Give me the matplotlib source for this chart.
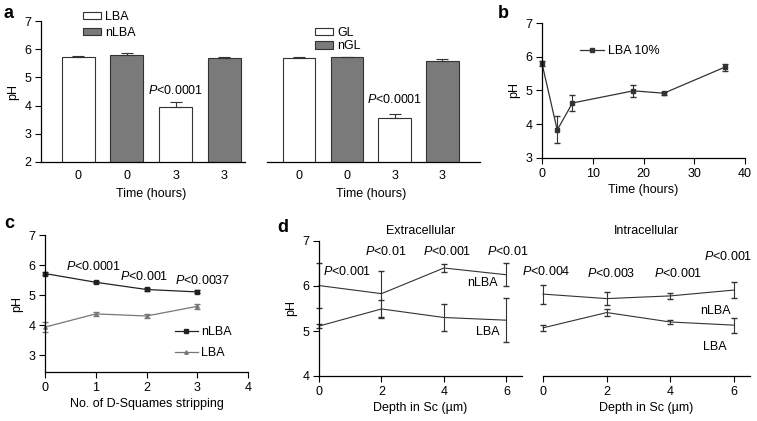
import matplotlib
matplotlib.use("Agg")
import matplotlib.pyplot as plt
from matplotlib.patches import Patch
from matplotlib.lines import Line2D

plt.rcParams['font.family'] = ['Liberation Sans', 'DejaVu Sans']
plt.rcParams['mathtext.fontset'] = 'custom'
plt.rcParams['mathtext.it'] = 'Liberation Sans:italic'
plt.rcParams['mathtext.rm'] = 'Liberation Sans'
plt.rcParams['font.size'] = 9
plt.rcParams['axes.linewidth'] = 0.9
plt.rcParams['xtick.major.size'] = 4
plt.rcParams['ytick.major.size'] = 4
plt.rcParams['xtick.major.pad'] = 3
plt.rcParams['ytick.major.pad'] = 3

# ---- data ----
# panel a
a_ticks = ['0', '0', '3', '3']
a_lba = [5.73, 5.79, 3.94, 5.70]          # LBA, nLBA, LBA, nLBA
a_lba_err = [0.02, 0.06, 0.20, 0.03]
a_gl = [5.70, 5.71, 3.55, 5.57]           # GL, nGL, GL, nGL
a_gl_err = [0.04, 0.02, 0.15, 0.07]
a_fill = ['white', '#7a7a7a', 'white', '#7a7a7a']

# panel b
b_time = [0, 3, 6, 18, 24, 36]
b_ph = [5.80, 3.83, 4.63, 4.99, 4.92, 5.69]
b_err = [0.08, 0.40, 0.25, 0.18, 0.04, 0.10]

# panel c
c_strip = [0, 1, 2, 3]
c_nlba = [5.72, 5.43, 5.19, 5.11]
c_nlba_err = [0.04, 0.04, 0.06, 0.05]
c_lba = [3.94, 4.38, 4.31, 4.63]
c_lba_err = [0.17, 0.06, 0.06, 0.09]
c_pvals = ['$P$<0.0001', '$P$<0.001', '$P$<0.0037']

# panel d
d_depth = [0, 2, 4, 6]
d_ext_nlba = [6.01, 5.83, 6.40, 6.25]
d_ext_nlba_err = [0.50, 0.51, 0.08, 0.25]
d_ext_lba = [5.11, 5.49, 5.30, 5.24]
d_ext_lba_err = [0.05, 0.19, 0.31, 0.49]
d_ext_pvals = ['$P$<0.001', '$P$<0.01', '$P$<0.001', '$P$<0.01']
d_int_nlba = [5.82, 5.72, 5.78, 5.91]
d_int_nlba_err = [0.21, 0.14, 0.06, 0.18]
d_int_lba = [5.07, 5.41, 5.20, 5.13]
d_int_lba_err = [0.07, 0.07, 0.05, 0.17]
d_int_pvals = ['$P$<0.004', '$P$<0.003', '$P$<0.001', '$P$<0.001']

W, H = 757, 421
fig = plt.figure(figsize=(W / 100, H / 100), dpi=100)


def rect(x0, y0, x1, y1):
    # pixel box -> figure fraction
    return [x0 / W, 1 - y1 / H, (x1 - x0) / W, (y1 - y0) / H]


def clean(ax, left=True):
    ax.spines['top'].set_visible(False)
    ax.spines['right'].set_visible(False)
    if not left:
        ax.spines['left'].set_visible(False)
        ax.tick_params(axis='y', left=False, labelleft=False)


dark = '#333333'

# ---- panel a ----
for box, xlim, vals, errs, labels, p_y, leg_xy, spacing in [
        ((41, 21, 245, 162), (-0.77, 3.43), a_lba, a_lba_err, ['LBA', 'nLBA'],
         4.55, (83, 11), 0.33),
        ((267, 21, 480, 162), (-0.67, 3.79), a_gl, a_gl_err, ['GL', 'nGL'],
         4.2, (315, 27), 0.1)]:
    ax = fig.add_axes(rect(*box))
    pos = range(len(vals))
    ax.bar(pos, vals, width=0.68, bottom=0, color=a_fill, edgecolor=dark,
           linewidth=0.8, yerr=[[0] * len(errs), errs], capsize=4,
           error_kw=dict(ecolor=dark, elinewidth=0.8, capthick=0.8))
    ax.set_ylim(2, 7)
    ax.set_xlim(*xlim)
    ax.set_xticks(list(pos))
    ax.set_xticklabels(a_ticks)
    ax.tick_params(axis='x', length=0, pad=6)
    ax.set_xlabel('Time (hours)', labelpad=5)
    # centre the axis title under the bars rather than the whole axis
    ax.xaxis.set_label_coords((1.5 - xlim[0]) / (xlim[1] - xlim[0]), -0.185)
    if labels[0] == 'LBA':
        clean(ax)
        ax.set_yticks(range(2, 8))
        ax.set_ylabel('pH')
    else:
        clean(ax, left=False)
    ax.text(2, p_y, '$P$<0.0001', ha='center', va='center')
    handles = [Patch(facecolor='white', edgecolor=dark, linewidth=0.8),
               Patch(facecolor='#7a7a7a', edgecolor=dark, linewidth=0.8)]
    fig.legend(handles, labels, loc='upper left', frameon=False,
               bbox_to_anchor=(leg_xy[0] / W, 1 - leg_xy[1] / H), borderpad=0,
               borderaxespad=0, handlelength=1.4, handleheight=0.55,
               handletextpad=0.4, labelspacing=spacing)

fig.text(4 / W, 1 - 14 / H, 'a', fontsize=13, fontweight='bold', va='center')

# ---- panel b ----
ax = fig.add_axes(rect(542, 23, 745, 158))
clean(ax)
ax.errorbar(b_time, b_ph, yerr=b_err, color=dark, marker='s', markersize=2.2,
            linewidth=0.9, capsize=2, elinewidth=0.8, clip_on=False)
ax.set_xlim(0, 40)
ax.set_ylim(3, 7)
ax.set_xticks(range(0, 41, 10))
ax.set_yticks(range(3, 8))
ax.set_xlabel('Time (hours)', labelpad=3)
ax.set_ylabel('pH')
fig.legend([Line2D([], [], color=dark, marker='s', markersize=2.2, linewidth=0.9)],
           ['LBA 10%'], loc='center left', frameon=False, borderpad=0,
           borderaxespad=0, bbox_to_anchor=(580 / W, 1 - 51 / H),
           handlelength=1.9, handletextpad=0.35)
fig.text(498 / W, 1 - 14 / H, 'b', fontsize=13, fontweight='bold', va='center')

# ---- panel c ----
ax = fig.add_axes(rect(45, 235, 248, 372))
clean(ax)
ax.errorbar(c_strip, c_nlba, yerr=c_nlba_err, color='#222222', marker='s',
            markersize=2.5, linewidth=0.9, capsize=2, elinewidth=0.8,
            clip_on=False)
ax.errorbar(c_strip, c_lba, yerr=c_lba_err, color='#777777', marker='^',
            markersize=2.5, linewidth=0.9, capsize=2, elinewidth=0.8,
            clip_on=False)
ax.set_xlim(0, 4)
ax.set_ylim(2.45, 7)
ax.set_xticks(range(0, 5))
ax.set_yticks(range(3, 8))
ax.set_xlabel('No. of D-Squames stripping', labelpad=3)
ax.set_ylabel('pH')
for x, dx, dy, txt in zip(c_strip[1:], [-0.05, -0.05, 0.1], [0.3, 0.22, 0.17],
                          c_pvals):
    y = c_nlba[c_strip.index(x)]
    ax.text(x + dx, y + dy, txt, ha='center', va='bottom')
c_handles = [Line2D([], [], color='#222222', marker='s', markersize=2.5,
                    linewidth=0.9),
             Line2D([], [], color='#777777', marker='^', markersize=2.5,
                    linewidth=0.9)]
fig.legend(c_handles, ['nLBA', 'LBA'], loc='upper left', frameon=False,
           borderpad=0, borderaxespad=0, bbox_to_anchor=(175 / W, 1 - 326 / H),
           handlelength=1.8, handletextpad=0.3, labelspacing=0.75)
fig.text(4 / W, 1 - 224 / H, 'c', fontsize=13, fontweight='bold', va='center')

# ---- panel d ----
for box, nl, nl_err, lb, lb_err, pv, title, has_left in [
        ((319, 241, 522, 376), d_ext_nlba, d_ext_nlba_err, d_ext_lba,
         d_ext_lba_err, d_ext_pvals, 'Extracellular', True),
        ((543, 241, 750, 376), d_int_nlba, d_int_nlba_err, d_int_lba,
         d_int_lba_err, d_int_pvals, 'Intracellular', False)]:
    ax = fig.add_axes(rect(*box))
    clean(ax, left=has_left)
    for vals, errs in [(nl, nl_err), (lb, lb_err)]:
        ax.errorbar(d_depth, vals, yerr=errs, color=dark, linewidth=0.8,
                    capsize=2, elinewidth=0.8, clip_on=False)
    ax.set_xlim(0, 6.5)
    ax.set_ylim(4, 7)
    ax.set_xticks(d_depth)
    ax.set_yticks(range(4, 8))
    ax.spines['bottom'].set_bounds(0, 6.5)
    ax.set_xlabel('Depth in Sc (\u00b5m)', labelpad=3)
    if has_left:
        ax.set_ylabel('pH')
        p_xs = [0.9, 2.12, 4.1, 6.05]
        p_ys = [6.32, 6.76, 6.76, 6.76]
        ax.text(5.23, 6.07, 'nLBA', ha='center', va='center')
        ax.text(5.39, 4.98, 'LBA', ha='center', va='center')
    else:
        p_xs = [0.1, 2.15, 4.24, 5.81]
        p_ys = [6.32, 6.28, 6.28, 6.65]
        ax.text(5.4, 5.45, 'nLBA', ha='center', va='center')
        ax.text(5.4, 4.64, 'LBA', ha='center', va='center')
    for x, y, txt in zip(p_xs, p_ys, pv):
        ax.text(x, y, txt, ha='center', va='center', clip_on=False)
    ax.set_title(title, fontsize=9, pad=5)

fig.text(277 / W, 1 - 228 / H, 'd', fontsize=13, fontweight='bold', va='center')

fig.savefig('out.png', dpi=100)
